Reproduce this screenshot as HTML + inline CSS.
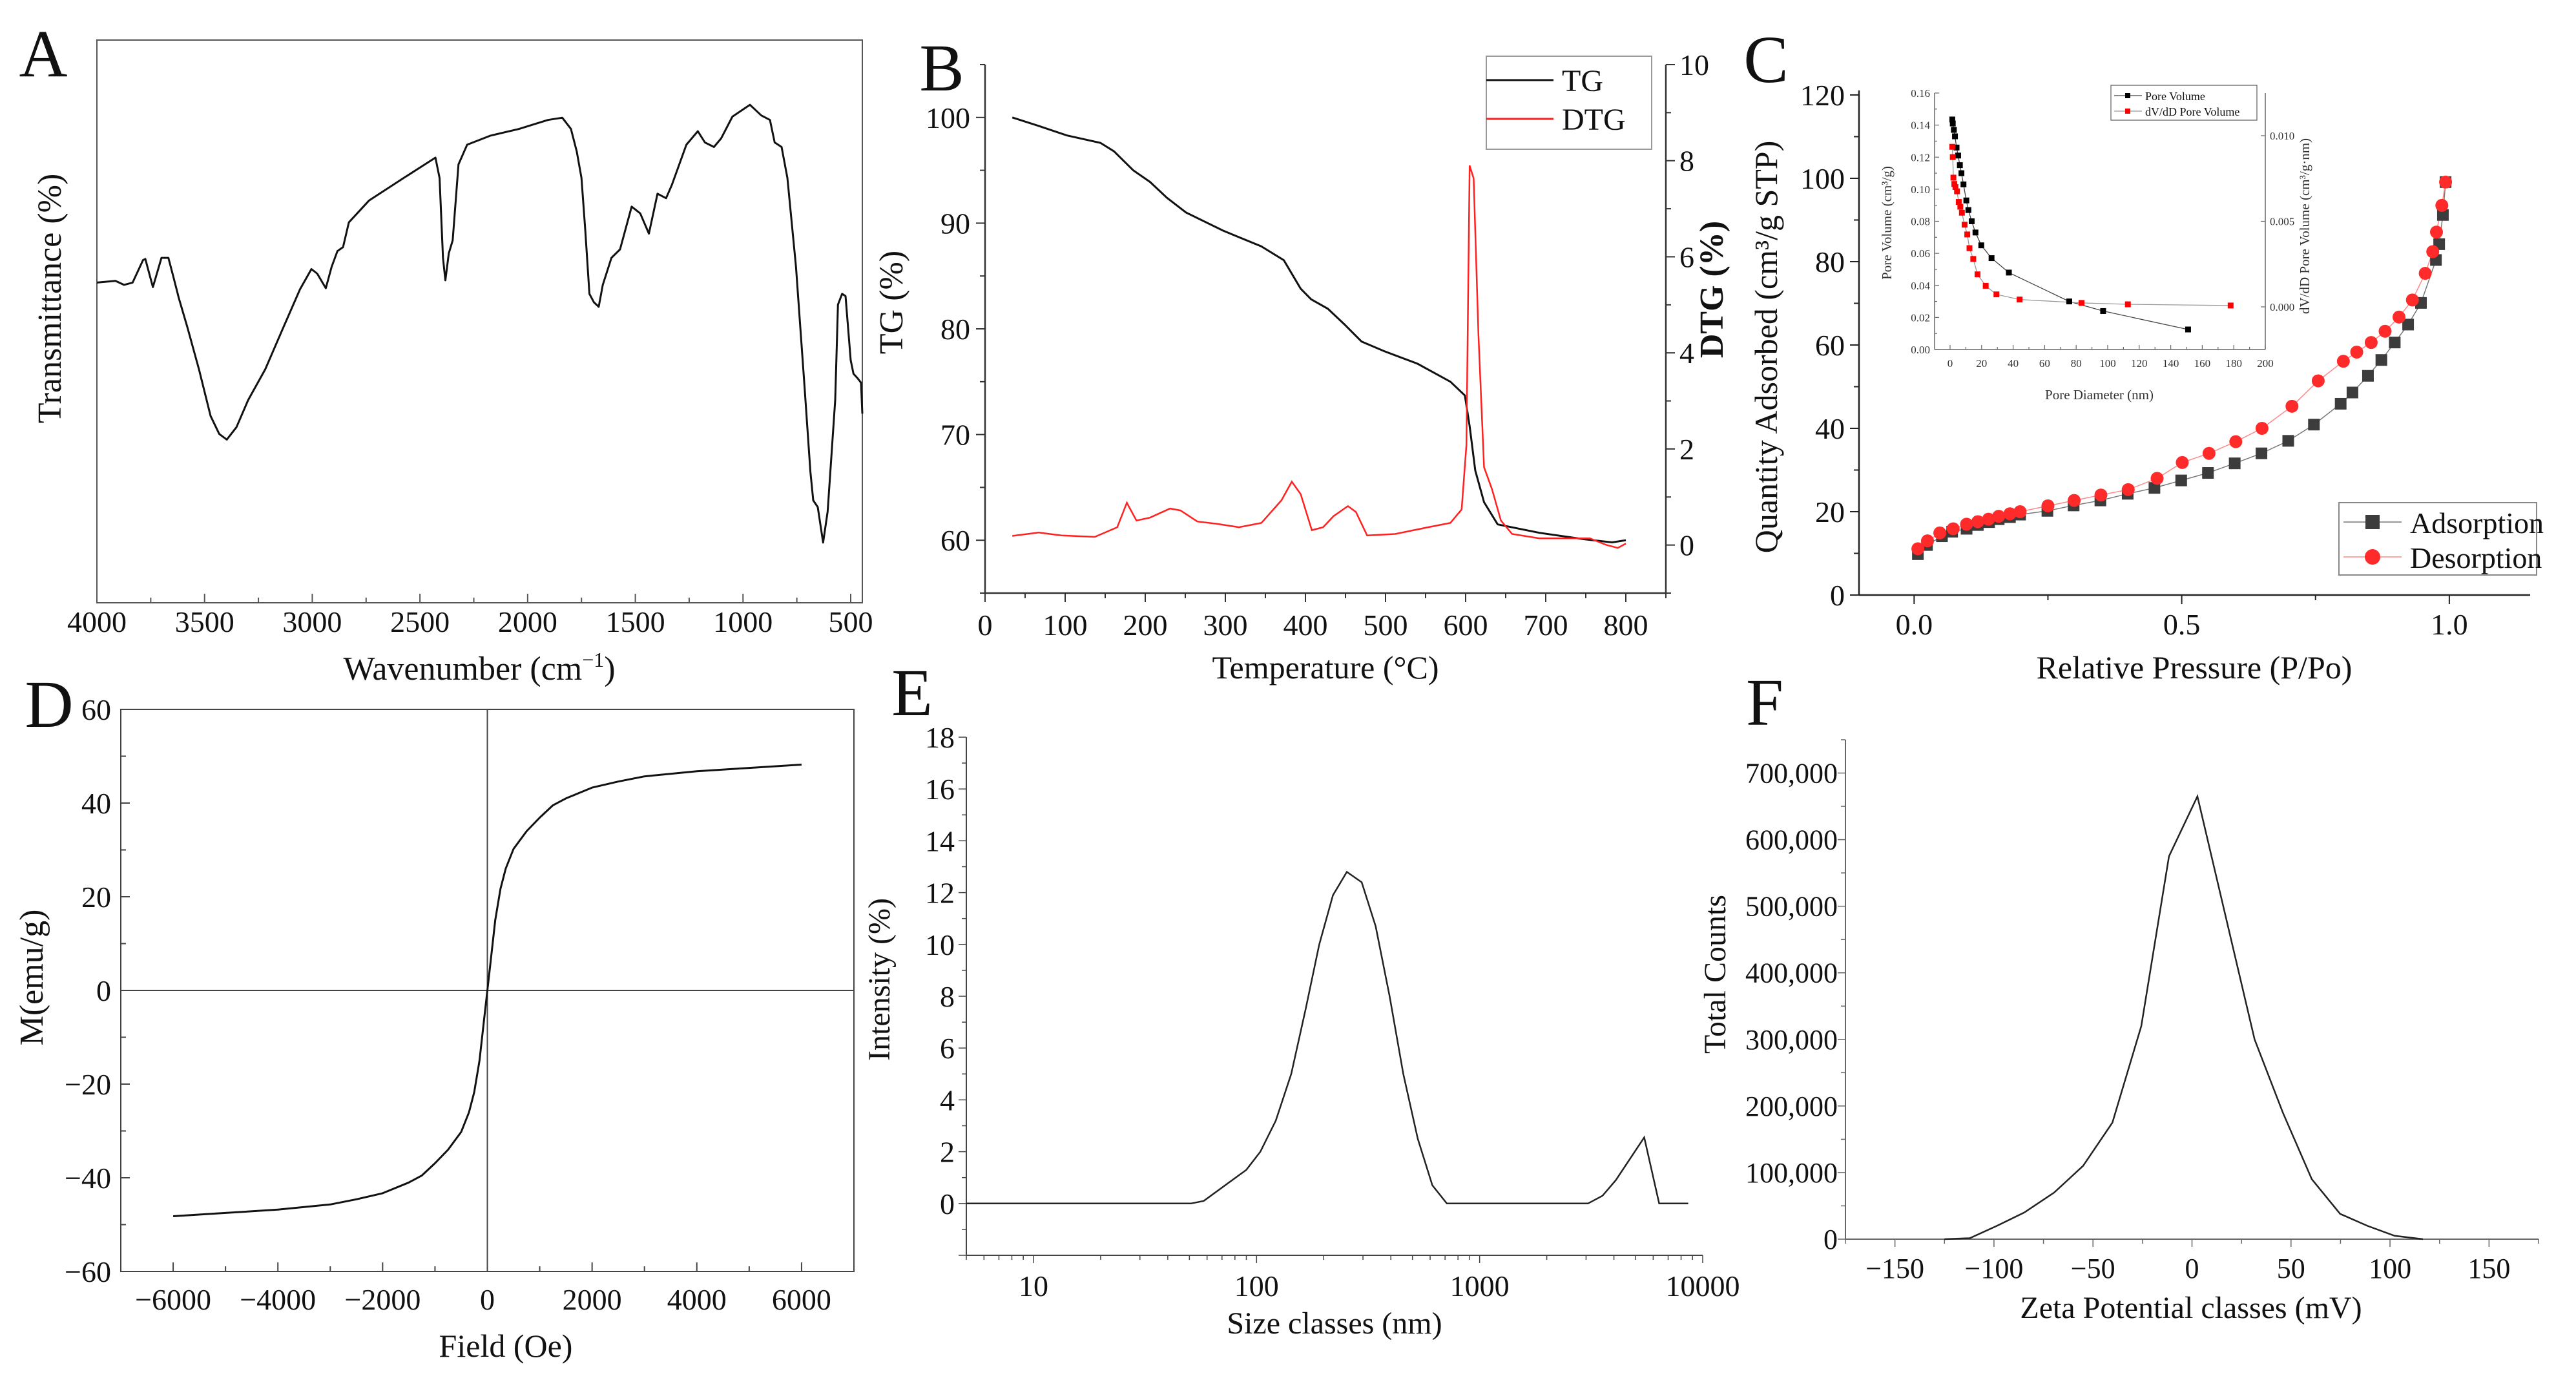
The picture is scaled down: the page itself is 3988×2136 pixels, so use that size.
<!DOCTYPE html>
<html><head><meta charset="utf-8"><title>Characterization figure</title>
<style>
html,body{margin:0;padding:0;background:#fff;}
svg{display:block;font-family:"Liberation Serif",serif;}
svg text{font-family:"Liberation Serif",serif;}
</style></head>
<body>
<svg id="fig" xmlns="http://www.w3.org/2000/svg" width="3988" height="2136" viewBox="0 0 3988 2136" font-family="Liberation Serif, serif"></svg>
<script>
// ---------- Panel A: FTIR ----------
const ftirWn = [4000,3914,3874,3834,3786,3775,3740,3700,3668,3646,3620,3580,3526,3472,3432,3397,3352,3298,3218,3138,3057,3004,2977,2937,2910,2883,2857,2830,2736,2575,2428,2409,2393,2382,2366,2348,2321,2281,2174,2040,1906,1839,1799,1772,1750,1732,1713,1692,1670,1651,1611,1571,1517,1477,1437,1397,1357,1330,1263,1210,1177,1135,1102,1049,968,915,875,853,821,794,754,714,687,674,653,628,607,572,559,540,524,500,487,468,452,446];
const ftirT = [56.9,57.2,56.5,56.9,60.9,61.1,56.1,61.3,61.3,58.1,54.2,49.0,41.5,33.2,30.0,29.0,31.2,36.0,41.5,48.6,55.7,59.3,58.5,55.9,59.7,62.5,63.2,67.6,71.5,75.5,79.1,75.5,61.3,57.3,62.1,64.4,77.9,81.4,83.0,84.2,85.8,86.2,84.2,80.2,75.5,66.0,54.9,53.4,52.6,56.5,61.3,62.8,70.4,69.2,65.6,72.7,71.9,74.3,81.4,83.8,81.8,81.0,82.5,86.4,88.5,86.6,85.8,81.8,81.0,75.5,59.7,38.3,23.3,18.2,17.0,10.7,16.2,36.0,53.0,54.9,54.5,43.1,40.7,39.9,39.1,33.6];
const ftirTicks = [4000,3500,3000,2500,2000,1500,1000,500];
// ---------- Panel B: TGA ----------
const tgT = [34,67,102,144,161,185,206,227,251,297,345,373,394,407,428,449,470,498,540,581,599,605,612,623,640,692,748,783,800];
const tgV = [100,99.2,98.3,97.6,96.8,95.0,93.9,92.4,91.0,89.3,87.8,86.5,83.8,82.8,81.9,80.4,78.8,77.9,76.7,75.0,73.7,70.8,66.6,63.6,61.5,60.7,60.1,59.8,60.0];
const dtgT = [34,67,95,137,165,177,189,206,231,244,265,290,317,345,370,383,394,408,422,435,453,463,477,512,553,581,595,601,605,610,616,623,633,644,658,692,755,776,790,800];
const dtgV = [0.19,0.26,0.2,0.17,0.37,0.88,0.51,0.57,0.76,0.72,0.49,0.44,0.37,0.46,0.93,1.32,1.06,0.31,0.37,0.6,0.81,0.69,0.2,0.23,0.37,0.46,0.74,2.08,7.9,7.63,4.39,1.62,1.16,0.51,0.23,0.14,0.14,0,-0.06,0.03];
const tgTicksX = [0,100,200,300,400,500,600,700,800];
const tgTicksY = [60,70,80,90,100];
const dtgTicksY = [0,2,4,6,8,10];
// ---------- Panel C: BET ----------
const adsP = [0.007,0.024,0.052,0.071,0.098,0.119,0.14,0.158,0.179,0.198,0.249,0.298,0.348,0.399,0.449,0.499,0.549,0.599,0.649,0.699,0.747,0.797,0.819,0.848,0.873,0.898,0.923,0.947,0.975,0.981,0.988,0.993];
const adsQ = [9.8,12,14.1,15.2,15.9,16.8,17.5,18.2,18.7,19.3,20.2,21.5,22.7,24.3,25.7,27.5,29.3,31.6,34,37,40.9,45.9,48.6,52.6,56.4,60.6,64.9,70.1,80.4,84.2,91.2,99.1];
const desP = [0.993,0.986,0.976,0.969,0.955,0.931,0.906,0.88,0.854,0.827,0.802,0.755,0.706,0.65,0.601,0.551,0.501,0.454,0.4,0.349,0.299,0.25,0.198,0.179,0.158,0.139,0.119,0.098,0.073,0.048,0.025,0.007];
const desQ = [99.1,93.5,87.1,82.4,77.2,70.8,66.7,63.3,60.6,58.3,56.1,51.4,45.3,40,36.8,34,31.8,28,25.3,24,22.7,21.4,20,19.5,18.9,18.2,17.6,17,15.9,14.9,13,11.1];
const betTicksX = [0,0.5,1.0];
const betTicksY = [0,20,40,60,80,100,120];
const poreD = [1.4,1.7,2.4,3.1,4.1,5.1,6.2,7.2,8.5,10.3,11.6,13.7,16.1,19.8,26.3,37.3,75.6,97.1,151];
const poreV = [0.1435,0.141,0.137,0.133,0.126,0.121,0.115,0.110,0.103,0.093,0.087,0.08,0.073,0.065,0.057,0.048,0.030,0.024,0.0125];
const dvdD = [1.4,1.7,2.1,2.7,3.4,4.4,5.5,6.5,7.5,9.2,10.9,12.3,14.7,17.4,22.6,29.4,44.1,83.4,112.8,178];
const dvdV = [0.00935,0.00875,0.00755,0.00718,0.007,0.00675,0.00613,0.00585,0.0055,0.0048,0.00423,0.00343,0.0028,0.0019,0.00123,0.00073,0.00043,0.00023,0.00015,0.00008];
const insetTicksX = [0,20,40,60,80,100,120,140,160,180,200];
const insetTicksY = [0,0.02,0.04,0.06,0.08,0.10,0.12,0.14,0.16];
const insetTicksR = [0,0.005,0.010];
// ---------- Panel D: VSM ----------
const vsmH = [-6000,-5000,-4000,-3000,-2500,-2000,-1500,-1250,-1000,-750,-500,-350,-250,-150,-50,0,50,150,250,350,500,750,1000,1250,1500,2000,2500,3000,4000,5000,6000];
const vsmM = [-48.2,-47.5,-46.8,-45.7,-44.6,-43.3,-41,-39.5,-36.9,-34,-30.2,-26,-21.7,-15,-5,0,5,15,21.7,26,30.2,34,36.9,39.5,41,43.3,44.6,45.7,46.8,47.5,48.2];
const vsmTicksX = [-6000,-4000,-2000,0,2000,4000,6000];
const vsmTicksY = [-60,-40,-20,0,20,40,60];
// ---------- Panel E: DLS ----------
const dlsSize = [5,50.8,58,90,104,122,143,166,191,220,254,296,342,395,455,528,614,713,3060,3556,4080,5470,6380,8610];
const dlsInt = [0,0,0.1,1.3,2.0,3.2,5,7.5,10,11.9,12.8,12.4,10.7,8,5,2.5,0.7,0,0,0.3,0.9,2.55,0,0];
const dlsTicksX = [10,100,1000,10000];
const dlsTicksY = [0,2,4,6,8,10,12,14,16,18];
// ---------- Panel F: Zeta ----------
const zetaMv = [-125,-112.2,-98.5,-84.7,-69.6,-55,-40.2,-25.6,-11.6,2.75,31.6,45.9,60.5,74.8,88.6,102.3,116.6];
const zetaCnt = [0,1500,20000,40000,70000,110000,175000,320000,575000,665000,300000,190000,90000,38000,20000,5000,0];
const zetaTicksX = [-150,-100,-50,0,50,100,150];
const zetaTicksY = [0,100000,200000,300000,400000,500000,600000,700000];

const NS = 'http://www.w3.org/2000/svg';
const FONT = '"Liberation Serif", serif';
const svg = document.getElementById('fig');
function mk(parent, tag, attrs, text) {
  const el = document.createElementNS(NS, tag);
  for (const k in attrs) el.setAttribute(k, attrs[k]);
  if (text !== undefined) el.textContent = text;
  parent.appendChild(el);
  return el;
}
function nm(el, name) {
  
  
  return el;
}
function lin(d0, d1, r0, r1) { return v => r0 + (v - d0) / (d1 - d0) * (r1 - r0); }
function pathOf(xs, ys, sx, sy) {
  return xs.map((x, i) => (i ? 'L' : 'M') + sx(x).toFixed(1) + ',' + sy(ys[i]).toFixed(1)).join(' ');
}
function group(name) { const g = mk(svg, 'g', {}); nm(g, name); return g; }
function line(g, x1, y1, x2, y2, stroke, w, name) {
  const l = mk(g, 'line', {x1, y1, x2, y2, stroke, 'stroke-width': w});
  nm(l, name); return l;
}
function text(g, x, y, s, size, anchor, name, extra) {
  const t = mk(g, 'text', Object.assign({x, y, 'font-size': size, 'font-family': FONT, 'text-anchor': anchor || 'middle', fill: '#111'}, extra || {}), s);
  nm(t, name); return t;
}
function vtext(g, x, y, s, size, name, extra) {
  const t = mk(g, 'text', Object.assign({x: 0, y: 0, 'font-size': size, 'font-family': FONT, 'text-anchor': 'middle', fill: '#111', transform: 'translate(' + x + ',' + y + ') rotate(-90)'}, extra || {}), s);
  nm(t, name); return t;
}
function fmtMinus(v) { return String(v).replace('-', '\u2212'); }

// ================= Panel A =================
(function () {
  const g = group('panel-a-ftir');
  const sx = lin(4000, 446, 150, 1335), sy = lin(0, 100, 933, 62);
  const fr = mk(g, 'rect', {x: 150, y: 62, width: 1185, height: 871, fill: 'none', stroke: '#555', 'stroke-width': 2});
  nm(fr, 'plot-frame');
  for (let v = 4000; v >= 500; v -= 250) {
    const major = v % 500 === 0;
    line(g, sx(v), 933, sx(v), 933 - (major ? 14 : 8), '#555', 2, 'x-tick');
  }
  ftirTicks.forEach(v => text(g, sx(v), 978, String(v), 46, 'middle', 'x-tick-label'));
  const p = mk(g, 'path', {d: pathOf(ftirWn, ftirT, sx, sy), fill: 'none', stroke: '#111', 'stroke-width': 3, 'stroke-linejoin': 'round'});
  nm(p, 'ftir-spectrum-line');
  const xt = text(g, 742, 1052, 'Wavenumber (cm', 52, 'middle', 'x-axis-title');
  const sup = mk(xt, 'tspan', {dy: -20, 'font-size': 32}, '\u22121'); nm(sup, 'superscript');
  const cl = mk(xt, 'tspan', {dy: 20}, ')'); nm(cl, 'close-paren');
  vtext(g, 94, 462, 'Transmittance (%)', 52, 'y-axis-title');
  text(g, 67, 118, 'A', 104, 'middle', 'panel-label-a');
})();

// ================= Panel B =================
(function () {
  const g = group('panel-b-tga');
  const sx = lin(0, 850, 1525, 2579), sy = lin(55, 105, 918, 100), sy2 = lin(-1, 10, 918, 100);
  line(g, 1525, 100, 1525, 918, '#333', 2.5, 'left-axis');
  line(g, 1525, 918, 2579, 918, '#333', 2.5, 'bottom-axis');
  line(g, 2579, 100, 2579, 918, '#333', 2.5, 'right-axis');
  for (let v = 55; v <= 105; v += 5) line(g, 1525, sy(v), 1525 - (v % 10 === 0 ? 14 : 8), sy(v), '#333', 2, 'left-tick');
  tgTicksY.forEach(v => text(g, 1502, sy(v) + 16, String(v), 46, 'end', 'left-tick-label'));
  for (let v = -1; v <= 10; v += 1) line(g, 2579, sy2(v), 2579 + (v % 2 === 0 ? 14 : 8), sy2(v), '#333', 2, 'right-tick');
  dtgTicksY.forEach(v => text(g, 2600, sy2(v) + 16, String(v), 46, 'start', 'right-tick-label'));
  for (let v = 0; v <= 850; v += 50) line(g, sx(v), 918, sx(v), 918 + (v % 100 === 0 ? 14 : 8), '#333', 2, 'bottom-tick');
  tgTicksX.forEach(v => text(g, sx(v), 983, String(v), 46, 'middle', 'bottom-tick-label'));
  const pt = mk(g, 'path', {d: pathOf(tgT, tgV, sx, sy), fill: 'none', stroke: '#111', 'stroke-width': 3});
  nm(pt, 'tg-line');
  const pd = mk(g, 'path', {d: pathOf(dtgT, dtgV, sx, sy2), fill: 'none', stroke: '#ff2020', 'stroke-width': 2.5});
  nm(pd, 'dtg-line');
  const lg = mk(g, 'g', {}); nm(lg, 'legend');
  const lr = mk(lg, 'rect', {x: 2301, y: 87, width: 256, height: 144, fill: '#fff', stroke: '#999', 'stroke-width': 2}); nm(lr, 'legend-box');
  line(lg, 2301, 124, 2405, 124, '#111', 3, 'legend-swatch-tg');
  text(lg, 2418, 141, 'TG', 48, 'start', 'legend-label-tg');
  line(lg, 2301, 184, 2405, 184, '#ff2020', 3, 'legend-swatch-dtg');
  text(lg, 2418, 201, 'DTG', 48, 'start', 'legend-label-dtg');
  text(g, 2052, 1050, 'Temperature (\u00b0C)', 50, 'middle', 'x-axis-title');
  vtext(g, 1397, 468, 'TG (%)', 52, 'y-axis-title-left');
  vtext(g, 2667, 448, 'DTG (%)', 52, 'y-axis-title-right', {'font-weight': 'bold'});
  text(g, 1458, 140, 'B', 104, 'middle', 'panel-label-b');
})();

// ================= Panel C =================
(function () {
  const g = group('panel-c-bet');
  const sx = lin(-0.103, 1.151, 2878, 3917), sy = lin(0, 120, 921, 147);
  line(g, 2878, 140, 2878, 921, '#222', 2.5, 'left-axis');
  line(g, 2878, 921, 3917, 921, '#222', 2.5, 'bottom-axis');
  for (let v = 0; v <= 120; v += 10) line(g, 2878, sy(v), 2878 - (v % 20 === 0 ? 14 : 8), sy(v), '#222', 2, 'left-tick');
  betTicksY.forEach(v => text(g, 2856, sy(v) + 16, String(v), 46, 'end', 'left-tick-label'));
  [0, 0.25, 0.5, 0.75, 1.0].forEach(v => line(g, sx(v), 921, sx(v), 921 + (v % 0.5 === 0 ? 14 : 8), '#222', 2, 'bottom-tick'));
  betTicksX.forEach(v => text(g, sx(v), 982, v.toFixed(1), 46, 'middle', 'bottom-tick-label'));
  const pa = mk(g, 'path', {d: pathOf(adsP, adsQ, sx, sy), fill: 'none', stroke: '#777', 'stroke-width': 1.5}); nm(pa, 'adsorption-line');
  const pdl = mk(g, 'path', {d: pathOf(desP, desQ, sx, sy), fill: 'none', stroke: '#f88', 'stroke-width': 1.5}); nm(pdl, 'desorption-line');
  adsP.forEach((p, i) => {
    const r = mk(g, 'rect', {x: sx(p) - 9, y: sy(adsQ[i]) - 9, width: 18, height: 18, fill: '#3c3c3c'});
    
    
  });
  desP.forEach((p, i) => {
    const c = mk(g, 'circle', {cx: sx(p), cy: sy(desQ[i]), r: 10, fill: '#ff2a2a'});
    
    
  });
  const lg = mk(g, 'g', {}); nm(lg, 'legend');
  const lr = mk(lg, 'rect', {x: 3621, y: 778, width: 306, height: 112, fill: '#fff', stroke: '#888', 'stroke-width': 2}); nm(lr, 'legend-box');
  line(lg, 3628, 808, 3718, 808, '#777', 1.5, 'legend-line-adsorption');
  const ls = mk(lg, 'rect', {x: 3662, y: 797, width: 22, height: 22, fill: '#3c3c3c'}); nm(ls, 'legend-marker-adsorption');
  text(lg, 3731, 825, 'Adsorption', 46, 'start', 'legend-label-adsorption');
  line(lg, 3628, 862, 3718, 862, '#f88', 1.5, 'legend-line-desorption');
  const lc = mk(lg, 'circle', {cx: 3673, cy: 862, r: 12, fill: '#ff2a2a'}); nm(lc, 'legend-marker-desorption');
  text(lg, 3731, 879, 'Desorption', 46, 'start', 'legend-label-desorption');
  text(g, 3397, 1050, 'Relative Pressure (P/Po)', 50, 'middle', 'x-axis-title');
  vtext(g, 2751, 537, 'Quantity Adsorbed (cm\u00b3/g STP)', 50, 'y-axis-title');
  text(g, 2734, 127, 'C', 104, 'middle', 'panel-label-c');

  // inset
  const ig = mk(g, 'g', {}); nm(ig, 'inset-pore-distribution');
  const ix = lin(0, 200, 3019, 3507), iy = lin(0, 0.16, 541, 144), ir = lin(0, 0.01, 475, 210);
  line(ig, 2995, 144, 2995, 541, '#666', 1.5, 'inset-left-axis');
  line(ig, 2995, 541, 3507, 541, '#666', 1.5, 'inset-bottom-axis');
  line(ig, 3507, 144, 3507, 541, '#666', 1.5, 'inset-right-axis');
  for (let v = 0; v <= 0.1601; v += 0.01) line(ig, 2995, iy(v), 2995 + (Math.round(v * 100) % 2 === 0 ? 7 : 4), iy(v), '#666', 1.2, 'inset-left-tick');
  insetTicksY.forEach(v => text(ig, 2988, iy(v) + 6, v.toFixed(2), 17, 'end', 'inset-left-tick-label', {fill: '#333'}));
  for (let v = 0; v <= 200; v += 10) line(ig, ix(v), 541, ix(v), 541 - (v % 20 === 0 ? 7 : 4), '#666', 1.2, 'inset-bottom-tick');
  insetTicksX.forEach(v => text(ig, ix(v), 568, String(v), 17, 'middle', 'inset-bottom-tick-label', {fill: '#333'}));
  insetTicksR.forEach(v => line(ig, 3507, ir(v), 3500, ir(v), '#666', 1.2, 'inset-right-tick'));
  insetTicksR.forEach(v => text(ig, 3514, ir(v) + 6, v.toFixed(3), 17, 'start', 'inset-right-tick-label', {fill: '#333'}));
  const ip1 = mk(ig, 'path', {d: pathOf(poreD, poreV, ix, iy), fill: 'none', stroke: '#444', 'stroke-width': 1.3}); nm(ip1, 'pore-volume-line');
  const ip2 = mk(ig, 'path', {d: pathOf(dvdD, dvdV, ix, ir), fill: 'none', stroke: '#999', 'stroke-width': 1.3}); nm(ip2, 'dvdd-line');
  poreD.forEach((d, i) => {
    const r = mk(ig, 'rect', {x: ix(d) - 4.5, y: iy(poreV[i]) - 4.5, width: 9, height: 9, fill: '#000'});
    
    
  });
  dvdD.forEach((d, i) => {
    const r = mk(ig, 'rect', {x: ix(d) - 4.5, y: ir(dvdV[i]) - 4.5, width: 9, height: 9, fill: '#f00'});
    
    
  });
  const ilg = mk(ig, 'g', {}); nm(ilg, 'inset-legend');
  const ilr = mk(ilg, 'rect', {x: 3268, y: 132, width: 226, height: 54, fill: '#fff', stroke: '#666', 'stroke-width': 1.3}); nm(ilr, 'inset-legend-box');
  line(ilg, 3273, 148, 3316, 148, '#444', 1.3, 'inset-legend-line-pv');
  const m1 = mk(ilg, 'rect', {x: 3290, y: 144, width: 8, height: 8, fill: '#000'}); nm(m1, 'inset-legend-marker-pv');
  text(ilg, 3321, 155, 'Pore Volume', 18, 'start', 'inset-legend-label-pv');
  line(ilg, 3273, 172, 3316, 172, '#999', 1.3, 'inset-legend-line-dvdd');
  const m2 = mk(ilg, 'rect', {x: 3290, y: 168, width: 8, height: 8, fill: '#f00'}); nm(m2, 'inset-legend-marker-dvdd');
  text(ilg, 3321, 179, 'dV/dD Pore Volume', 18, 'start', 'inset-legend-label-dvdd');
  text(ig, 3250, 618, 'Pore Diameter (nm)', 21, 'middle', 'inset-x-axis-title', {fill: '#333'});
  vtext(ig, 2928, 345, 'Pore Volume (cm\u00b3/g)', 21, 'inset-y-axis-title', {fill: '#333'});
  vtext(ig, 3575, 350, 'dV/dD Pore Volume (cm\u00b3/g\u00b7nm)', 21, 'inset-right-axis-title', {fill: '#333'});
})();

// ================= Panel D =================
(function () {
  const g = group('panel-d-vsm');
  const sx = lin(-7000, 7000, 187, 1322), sy = lin(-60, 60, 1968, 1098);
  const fr = mk(g, 'rect', {x: 187, y: 1098, width: 1135, height: 870, fill: 'none', stroke: '#444', 'stroke-width': 2}); nm(fr, 'plot-frame');
  line(g, sx(0), 1098, sx(0), 1968, '#444', 2, 'zero-vertical-line');
  line(g, 187, sy(0), 1322, sy(0), '#444', 2, 'zero-horizontal-line');
  for (let v = -6000; v <= 6000; v += 1000) line(g, sx(v), 1968, sx(v), 1968 - (v % 2000 === 0 ? 14 : 8), '#444', 2, 'bottom-tick');
  vsmTicksX.forEach(v => text(g, sx(v), 2027, fmtMinus(v), 46, 'middle', 'bottom-tick-label'));
  for (let v = -60; v <= 60; v += 10) line(g, 187, sy(v), 187 + (v % 20 === 0 ? 14 : 8), sy(v), '#444', 2, 'left-tick');
  vsmTicksY.forEach(v => text(g, 172, sy(v) + 16, fmtMinus(v), 46, 'end', 'left-tick-label'));
  const p = mk(g, 'path', {d: pathOf(vsmH, vsmM, sx, sy), fill: 'none', stroke: '#111', 'stroke-width': 3, 'stroke-linejoin': 'round'}); nm(p, 'magnetization-curve');
  text(g, 783, 2100, 'Field (Oe)', 50, 'middle', 'x-axis-title');
  vtext(g, 66, 1513, 'M(emu/g)', 52, 'y-axis-title');
  text(g, 76, 1125, 'D', 104, 'middle', 'panel-label-d');
})();

// ================= Panel E =================
(function () {
  const g = group('panel-e-dls');
  const lx = lin(Math.log10(5), 4, 1496, 2636);
  const sx = v => lx(Math.log10(v));
  const sy = lin(-2, 18, 1943, 1141);
  line(g, 1496, 1141, 1496, 1943, '#444', 2, 'left-axis');
  line(g, 1496, 1943, 2636, 1943, '#444', 2, 'bottom-axis');
  for (let v = -2; v <= 18; v += 1) line(g, 1496, sy(v), 1496 - (v % 2 === 0 ? 12 : 7), sy(v), '#444', 1.5, 'left-tick');
  dlsTicksY.forEach(v => text(g, 1478, sy(v) + 16, String(v), 46, 'end', 'left-tick-label'));
  [1, 10, 100, 1000].forEach(dec => { for (let m = 1; m <= 9; m++) { const v = dec * m; if (v >= 5 && v <= 10000) line(g, sx(v), 1943, sx(v), 1943 + (m === 1 ? 12 : 7), '#444', 1.5, 'bottom-tick'); } });
  line(g, sx(10000), 1943, sx(10000), 1955, '#444', 1.5, 'bottom-tick');
  dlsTicksX.forEach(v => text(g, sx(v), 2006, String(v), 46, 'middle', 'bottom-tick-label'));
  const p = mk(g, 'path', {d: pathOf(dlsSize, dlsInt, sx, sy), fill: 'none', stroke: '#222', 'stroke-width': 2.5}); nm(p, 'intensity-line');
  text(g, 2066, 2064, 'Size classes (nm)', 48, 'middle', 'x-axis-title');
  vtext(g, 1377, 1516, 'Intensity  (%)', 48, 'y-axis-title');
  text(g, 1412, 1107, 'E', 104, 'middle', 'panel-label-e');
})();

// ================= Panel F =================
(function () {
  const g = group('panel-f-zeta');
  const sx = lin(-175, 175, 2857, 3930), sy = lin(0, 750000, 1918, 1145);
  line(g, 2857, 1145, 2857, 1918, '#666', 2, 'left-axis');
  line(g, 2857, 1918, 3930, 1918, '#666', 2, 'bottom-axis');
  for (let v = 0; v <= 750000; v += 50000) line(g, 2857, sy(v), 2857 - (v % 100000 === 0 ? 12 : 7), sy(v), '#666', 1.5, 'left-tick');
  zetaTicksY.forEach(v => text(g, 2845, sy(v) + 15, v.toLocaleString('en-US'), 44, 'end', 'left-tick-label'));
  for (let v = -175; v <= 175; v += 25) line(g, sx(v), 1918, sx(v), 1918 + (v % 50 === 0 ? 12 : 7), '#666', 1.5, 'bottom-tick');
  zetaTicksX.forEach(v => text(g, sx(v), 1978, fmtMinus(v), 44, 'middle', 'bottom-tick-label'));
  const p = mk(g, 'path', {d: pathOf(zetaMv, zetaCnt, sx, sy), fill: 'none', stroke: '#222', 'stroke-width': 2.5}); nm(p, 'counts-line');
  text(g, 3392, 2040, 'Zeta Potential classes (mV)', 48, 'middle', 'x-axis-title');
  vtext(g, 2671, 1508, 'Total Counts', 48, 'y-axis-title');
  text(g, 2732, 1122, 'F', 104, 'middle', 'panel-label-f');
})();
</script>
</body></html>
